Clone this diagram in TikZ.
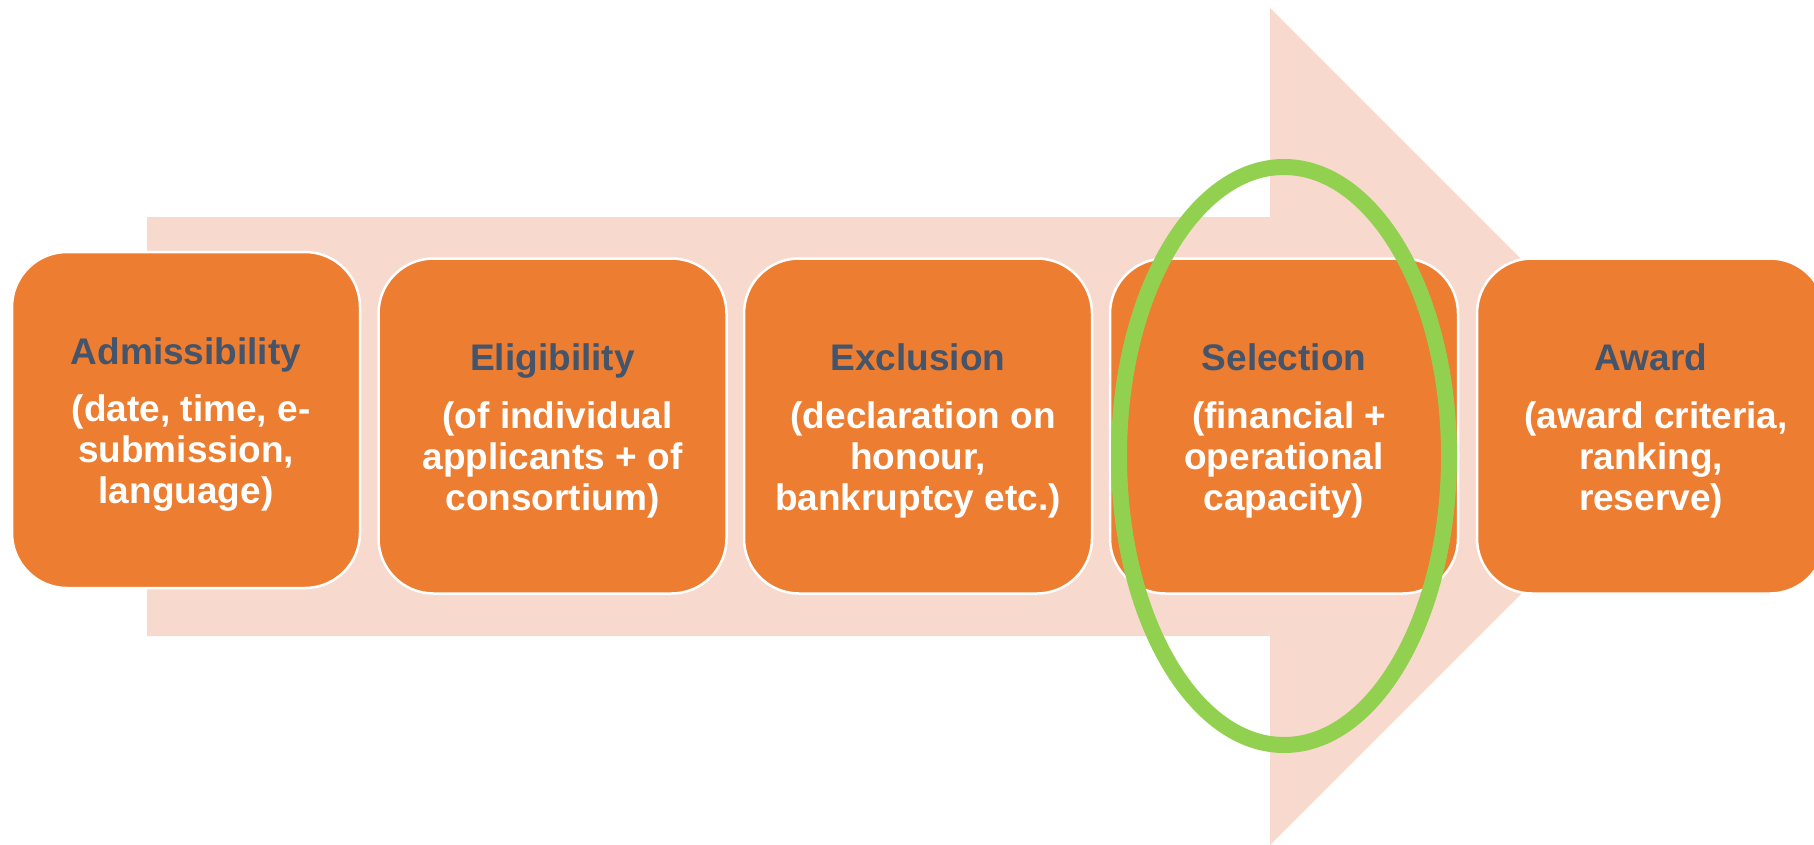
\documentclass[tikz,border=0pt]{standalone}
\usepackage{fontspec}
\setmainfont{Liberation Sans}
\usetikzlibrary{shapes.geometric}
\definecolor{boxorange}{HTML}{ED7D31}
\definecolor{arrowpink}{HTML}{F7D9CE}
\definecolor{ringgreen}{HTML}{92D050}
\definecolor{titlecol}{HTML}{44546A}
\tikzset{
  stagebox/.style={rectangle, rounded corners=55pt, draw=white, line width=2.5pt,
    fill=boxorange, minimum width=348pt, minimum height=335pt, inner sep=0pt},
  stagetext/.style={inner sep=0pt, align=center, text=white,
    font=\fontsize{37pt}{41pt}\selectfont\bfseries},
}
\newcommand{\stitle}[1]{\textcolor{titlecol}{#1}\\[16.5pt]}
\begin{document}
\begin{tikzpicture}[x=1pt,y=-1pt]
\useasboundingbox (0,0) rectangle (1814,845);
% big background arrow
\fill[arrowpink] (147,217) -- (1270,217) -- (1270,8) -- (1688.5,426.5)
  -- (1270,845) -- (1270,636) -- (147,636) -- cycle;
% stages
\node[stagebox, minimum height=336pt] (adm) at (186,420) {};
\node[stagebox] (eli) at (552.5,426) {};
\node[stagebox] (exc) at (918,426) {};
\node[stagebox] (sel) at (1284,426) {};
\node[stagebox] (awd) at (1651,426) {};
\node[stagetext] (admt) at ([yshift=-4.75pt]adm.center)
  {\stitle{Admissibility}~(date, time, e-\\submission,\\language)};
\node[stagetext] (elit) at ([yshift=-4.75pt]eli.center)
  {\stitle{Eligibility}~(of individual\\applicants + of\\consortium)};
\node[stagetext] (exct) at ([yshift=-4.75pt]exc.center)
  {\stitle{Exclusion}~(declaration on\\honour,\\bankruptcy etc.)};
\node[stagetext] (selt) at ([yshift=-4.75pt]sel.center)
  {\stitle{Selection}~(financial +\\operational\\capacity)};
\node[stagetext] (awdt) at ([yshift=-4.75pt]awd.center)
  {\stitle{Award}~(award criteria,\\ranking,\\reserve)};
% highlight ring
\node[ellipse, draw=ringgreen, line width=16pt, minimum width=330pt,
  minimum height=578pt, inner sep=0pt] (ring) at (1284,456) {};
\end{tikzpicture}
\end{document}
